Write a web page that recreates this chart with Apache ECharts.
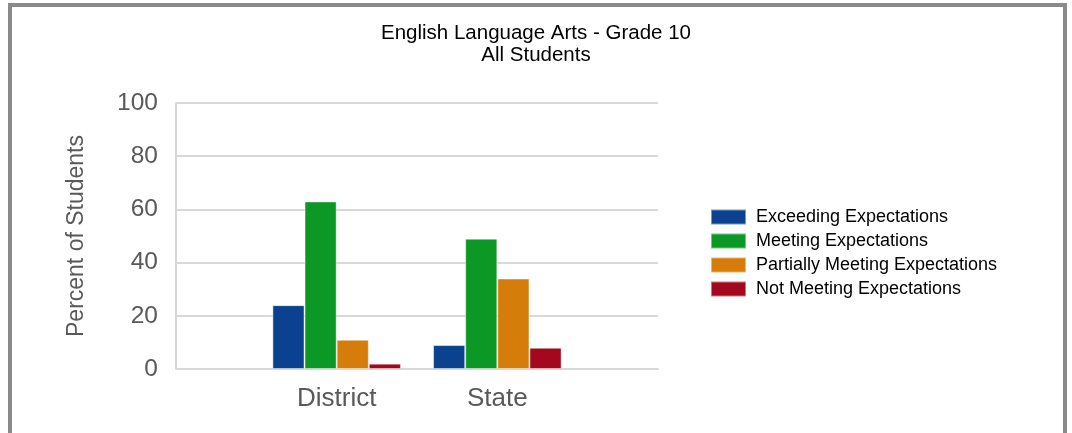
<!DOCTYPE html>
<html>
<head>
<meta charset="utf-8">
<script src="https://cdn.jsdelivr.net/npm/echarts@6/dist/echarts.min.js"></script>
<style>
  html, body { margin: 0; padding: 0; background: #fff; }
  #main { width: 1072px; height: 433px; }
  #frame {
    position: absolute; left: 8px; top: 3px; width: 1059px; height: 520px;
    box-sizing: border-box; border: 4px solid #8a8a8a; pointer-events: none;
  }
</style>
</head>
<body>
<div id="main"></div>
<div id="frame"></div>
<script>
// 分类(两端留空位，让District/State落在网格内的1/3和2/3处)
var categories = ['', 'District', 'State', ''];

// 各等级百分比
var exceeding = [null, 24, 9, null];
var meeting = [null, 63, 49, null];
var partially = [null, 11, 34, null];
var notMeeting = [null, 2, 8, null];

var seriesNames = ['Exceeding Expectations', 'Meeting Expectations',
    'Partially Meeting Expectations', 'Not Meeting Expectations'];
var seriesColors = ['#0b428f', '#0c9824', '#d57c0a', '#a3081e'];
var seriesData = [exceeding, meeting, partially, notMeeting];

var yTicks = [0, 20, 40, 60, 80, 100];

var fontFamily = '"Liberation Sans", Arial, sans-serif';

var myChart = echarts.init(document.getElementById('main'));

var series = [];
for (var i = 0; i < seriesNames.length; i++) {
    series.push({
        name: seriesNames[i],
        type: 'bar',
        barGap: 0,
        barCategoryGap: '20%',
        itemStyle: {
            color: seriesColors[i],
            borderColor: 'rgba(255,255,255,0.45)',
            borderWidth: 1
        },
        data: seriesData[i]
    });
}

var option = {
    backgroundColor: '#fff',
    animation: false,
    textStyle: { fontFamily: fontFamily },
    title: {
        text: 'English Language Arts - Grade 10\nAll Students',
        left: 'center',
        top: 22,
        padding: 0,
        textStyle: {
            fontFamily: fontFamily,
            fontSize: 20.5,
            fontWeight: 'normal',
            color: '#000',
            lineHeight: 22
        }
    },
    legend: {
        orient: 'vertical',
        left: 705,
        top: 203,
        itemWidth: 35,
        itemHeight: 15,
        itemGap: 6,
        icon: 'rect',
        textStyle: {
            fontFamily: fontFamily,
            fontSize: 18,
            color: '#000',
            padding: [0, 0, 0, 5]
        },
        data: seriesNames
    },
    grid: {
        left: 176,
        right: 414,
        top: 103,
        bottom: 64
    },
    xAxis: {
        type: 'category',
        data: categories,
        boundaryGap: false,
        axisLine: { show: true, lineStyle: { color: '#d9d9d9', width: 2 } },
        axisTick: { show: false },
        splitLine: { show: false },
        axisLabel: {
            margin: 17,
            fontSize: 26,
            color: '#595959',
            fontFamily: fontFamily
        }
    },
    yAxis: {
        type: 'value',
        min: yTicks[0],
        max: yTicks[yTicks.length - 1],
        interval: 20,
        name: 'Percent of Students',
        nameLocation: 'middle',
        nameGap: 88,
        nameTextStyle: {
            fontSize: 23,
            color: '#595959',
            fontFamily: fontFamily
        },
        axisLine: { show: true, lineStyle: { color: '#d9d9d9', width: 2 } },
        axisTick: { show: false },
        splitLine: { show: true, lineStyle: { color: '#d9d9d9', width: 2 } },
        axisLabel: {
            margin: 18,
            fontSize: 24.5,
            color: '#595959',
            fontFamily: fontFamily
        }
    },
    series: series
};

myChart.setOption(option);
</script>
</body>
</html>
